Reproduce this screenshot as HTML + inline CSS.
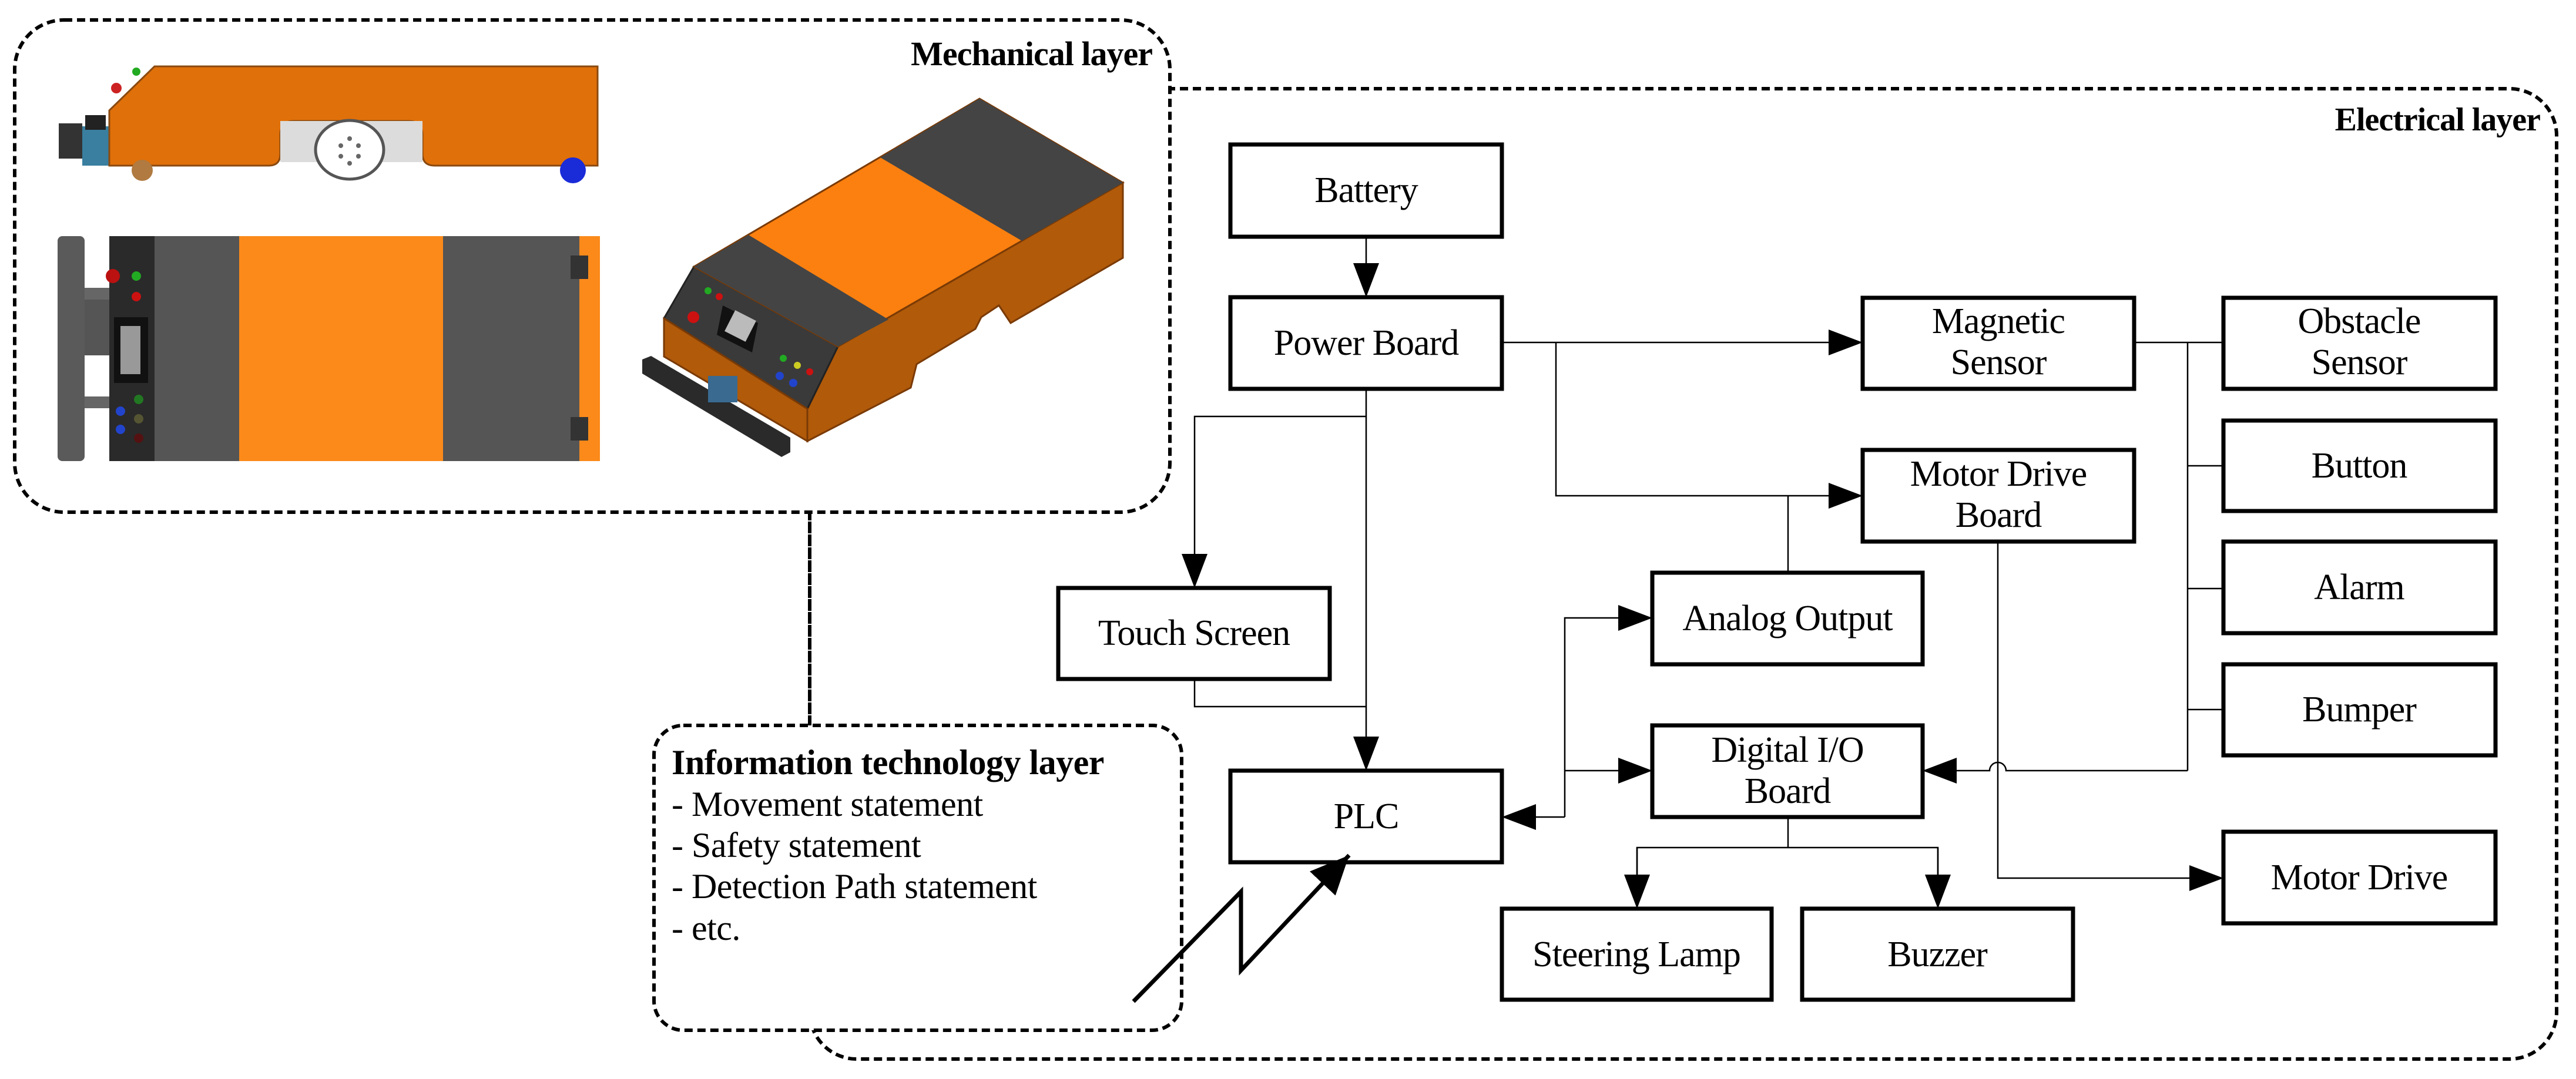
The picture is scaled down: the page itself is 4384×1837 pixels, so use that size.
<!DOCTYPE html>
<html><head><meta charset="utf-8"><style>
html,body{margin:0;padding:0;background:#fff;}
svg{display:block;}
text{font-family:"Liberation Serif",serif;fill:#000;}
.b{font-size:62px;text-anchor:middle;letter-spacing:-1px;}
</style></head><body>
<svg width="4384" height="1837" viewBox="0 0 4384 1837" xmlns="http://www.w3.org/2000/svg">
<defs>
<marker id="ar" markerWidth="60" markerHeight="44" refX="58" refY="22" orient="auto" markerUnits="userSpaceOnUse">
<path d="M0,0 L58,22 L0,44 Z" fill="#000"/></marker>
<marker id="ab" markerWidth="70" markerHeight="60" refX="66" refY="30" orient="auto" markerUnits="userSpaceOnUse">
<path d="M0,0 L66,30 L0,60 Z" fill="#000"/></marker>
</defs>

<rect x="1378" y="151" width="2973" height="1652" rx="80" fill="#fff" stroke="#000" stroke-width="6" stroke-dasharray="14,8"/>
<rect x="25" y="34" width="1966" height="838" rx="84" fill="#fff" stroke="#000" stroke-width="6" stroke-dasharray="14,8"/>
<line x1="1378" y1="872" x2="1378" y2="1235" stroke="#000" stroke-width="6" stroke-dasharray="14,8"/>
<rect x="1113" y="1235" width="898" height="519" rx="50" fill="#fff" stroke="#000" stroke-width="6" stroke-dasharray="14,8"/>

<text x="1961" y="111" style="font-size:58px;font-weight:bold;text-anchor:end;letter-spacing:-1px;">Mechanical layer</text>
<text x="4323" y="222" style="font-size:56px;font-weight:bold;text-anchor:end;letter-spacing:-1px;">Electrical layer</text>

<g style="font-size:60px;letter-spacing:-0.5px;">
<text x="1143" y="1318" style="font-weight:bold;">Information technology layer</text>
<text x="1143" y="1389">- Movement statement</text>
<text x="1143" y="1459">- Safety statement</text>
<text x="1143" y="1529">- Detection Path statement</text>
<text x="1143" y="1600">- etc.</text>
</g>

<g>
<rect x="100" y="210" width="40" height="60" fill="#333"/>
<rect x="140" y="215" width="46" height="67" fill="#3a7fa0"/>
<rect x="145" y="196" width="35" height="25" fill="#222"/>
<path d="M186,188 L263,113 L1017,113 L1017,282 L740,282 Q719,282 719,262 L719,230 Q719,206 695,206 L500,206 Q477,206 477,230 L477,262 Q477,282 457,282 L186,282 Z" fill="#e0700a" stroke="#8a4a10" stroke-width="3"/>
<rect x="477" y="206" width="242" height="70" fill="#dcdcdc"/>
<ellipse cx="595" cy="255" rx="58" ry="50" fill="#fff" stroke="#555" stroke-width="5"/>
<circle cx="595" cy="236" r="4" fill="#666"/><circle cx="580" cy="248" r="4" fill="#666"/><circle cx="610" cy="248" r="4" fill="#666"/><circle cx="580" cy="266" r="4" fill="#666"/><circle cx="610" cy="266" r="4" fill="#666"/><circle cx="595" cy="278" r="4" fill="#666"/>
<circle cx="242" cy="290" r="18" fill="#b07a40"/>
<circle cx="975" cy="290" r="22" fill="#1a2bd8"/>
<circle cx="198" cy="150" r="9" fill="#c22"/>
<circle cx="232" cy="122" r="7" fill="#2a2"/>
</g>

<g>
<rect x="98" y="402" width="46" height="383" rx="8" fill="#5a5a5a"/>
<rect x="144" y="495" width="42" height="110" fill="#555"/>
<rect x="144" y="490" width="42" height="20" fill="#666"/>
<rect x="144" y="675" width="42" height="20" fill="#666"/>
<rect x="186" y="402" width="77" height="383" fill="#2a2a2a"/>
<rect x="194" y="540" width="58" height="112" fill="#111"/>
<rect x="205" y="555" width="34" height="82" fill="#999"/>
<circle cx="232" cy="470" r="8" fill="#2a2"/><circle cx="232" cy="505" r="8" fill="#c11"/><circle cx="192" cy="470" r="12" fill="#b11"/>
<circle cx="236" cy="680" r="8" fill="#272"/><circle cx="236" cy="713" r="8" fill="#553"/><circle cx="236" cy="746" r="8" fill="#511"/>
<circle cx="205" cy="700" r="8" fill="#24c"/><circle cx="205" cy="731" r="8" fill="#24c"/>
<rect x="263" y="402" width="144" height="383" fill="#555"/>
<rect x="407" y="402" width="347" height="383" fill="#fb8a1a"/>
<rect x="754" y="402" width="232" height="383" fill="#555"/>
<rect x="986" y="402" width="35" height="383" fill="#fb8a1a"/>
<rect x="971" y="435" width="30" height="40" fill="#333"/>
<rect x="971" y="710" width="30" height="40" fill="#333"/>
</g>

<g>
<polygon points="1426,590 1911,311 1911,439 1720,550 1700,520 1670,540 1660,560 1560,620 1550,660 1374,751 1374,696" fill="#b05a0a" stroke="#7a3a05" stroke-width="3"/>
<polygon points="1130,542 1181,454 1426,590 1374,696" fill="#3a3a3a" stroke="#222" stroke-width="3"/>
<polygon points="1130,542 1374,696 1374,751 1130,607" fill="#b05a0a" stroke="#7a3a05" stroke-width="3"/>
<polygon points="1181,454 1667,168 1911,311 1426,590" fill="#fb8010" stroke="#7a3a05" stroke-width="3"/>
<polygon points="1181,454 1274,400 1512,544 1426,590" fill="#444"/>
<polygon points="1498,268 1667,168 1911,311 1739,410" fill="#444"/>
<polygon points="1230,520 1290,550 1280,600 1220,570" fill="#111"/>
<rect x="1240" y="535" width="40" height="40" fill="#bbb" transform="rotate(27 1260 555)"/>
<circle cx="1180" cy="540" r="10" fill="#c11"/><circle cx="1205" cy="495" r="6" fill="#2a2"/><circle cx="1224" cy="505" r="6" fill="#c11"/>
<circle cx="1333" cy="610" r="6" fill="#2a2"/><circle cx="1357" cy="622" r="6" fill="#cc2"/><circle cx="1378" cy="633" r="6" fill="#c11"/>
<circle cx="1327" cy="640" r="7" fill="#24c"/><circle cx="1350" cy="652" r="7" fill="#24c"/>
<polygon points="1093,612 1108,606 1345,745 1345,770 1330,778 1093,636" fill="#2a2a2a"/>
<rect x="1205" y="640" width="50" height="45" fill="#3a6a90"/>
</g>

<g fill="#fff" stroke="#000" stroke-width="7">
<rect x="2094" y="246" width="462" height="157"/>
<rect x="2094" y="506" width="462" height="156"/>
<rect x="3170" y="507" width="462" height="155"/>
<rect x="3784" y="507" width="463" height="155"/>
<rect x="3784" y="716" width="463" height="154"/>
<rect x="3784" y="922" width="463" height="156"/>
<rect x="3784" y="1131" width="463" height="155"/>
<rect x="3170" y="766" width="462" height="156"/>
<rect x="2812" y="975" width="460" height="156"/>
<rect x="2812" y="1235" width="460" height="156"/>
<rect x="2094" y="1312" width="462" height="156"/>
<rect x="1801" y="1001" width="462" height="155"/>
<rect x="2556" y="1547" width="459" height="155"/>
<rect x="3067" y="1547" width="461" height="155"/>
<rect x="3784" y="1416" width="463" height="156"/>
</g>

<g fill="none" stroke="#000" stroke-width="2.5">
<line x1="2325" y1="403" x2="2325" y2="506" marker-end="url(#ar)"/>
<line x1="2556" y1="583" x2="3170" y2="583" marker-end="url(#ar)"/>
<polyline points="2648,583 2648,844 3170,844" marker-end="url(#ar)"/>
<line x1="3043" y1="844" x2="3043" y2="975"/>
<line x1="2325" y1="662" x2="2325" y2="1312" marker-end="url(#ar)"/>
<polyline points="2325,709 2033,709 2033,1001" marker-end="url(#ar)"/>
<polyline points="2033,1156 2033,1203 2325,1203"/>
<polyline points="2663,1391 2556,1391" marker-end="url(#ar)"/>
<polyline points="2663,1391 2663,1052 2812,1052" marker-end="url(#ar)"/>
<line x1="2663" y1="1312" x2="2812" y2="1312" marker-end="url(#ar)"/>
<line x1="3632" y1="583" x2="3784" y2="583"/>
<line x1="3723" y1="583" x2="3723" y2="1312"/>
<line x1="3723" y1="793" x2="3784" y2="793"/>
<line x1="3723" y1="1002" x2="3784" y2="1002"/>
<line x1="3723" y1="1208" x2="3784" y2="1208"/>
<path d="M3723,1312 L3414,1312 A14,14 0 0 0 3386,1312 L3272,1312" marker-end="url(#ar)"/>
<polyline points="3400,922 3400,1495 3784,1495" marker-end="url(#ar)"/>
<line x1="3043" y1="1391" x2="3043" y2="1443"/>
<polyline points="2786,1547 2786,1443 3298,1443 3298,1547"/>
<line x1="2786" y1="1443" x2="2786" y2="1547" marker-end="url(#ar)"/>
<line x1="3298" y1="1443" x2="3298" y2="1547" marker-end="url(#ar)"/>
</g>
<polyline points="1929,1705 2112,1518 2112,1652 2296,1456" fill="none" stroke="#000" stroke-width="7" marker-end="url(#ab)"/>

<text class="b" x="2325" y="344">Battery</text>
<text class="b" x="2325" y="604">Power Board</text>
<text class="b" x="3401" y="567">Magnetic</text>
<text class="b" x="3401" y="637">Sensor</text>
<text class="b" x="4015" y="567">Obstacle</text>
<text class="b" x="4015" y="637">Sensor</text>
<text class="b" x="4015" y="813">Button</text>
<text class="b" x="4015" y="1020">Alarm</text>
<text class="b" x="4015" y="1228">Bumper</text>
<text class="b" x="3401" y="827">Motor Drive</text>
<text class="b" x="3401" y="897">Board</text>
<text class="b" x="3042" y="1073">Analog Output</text>
<text class="b" x="3042" y="1297">Digital I/O</text>
<text class="b" x="3042" y="1367">Board</text>
<text class="b" x="2325" y="1410">PLC</text>
<text class="b" x="2032" y="1098">Touch Screen</text>
<text class="b" x="2785" y="1645">Steering Lamp</text>
<text class="b" x="3297" y="1645">Buzzer</text>
<text class="b" x="4015" y="1514">Motor Drive</text>
</svg>
</body></html>
